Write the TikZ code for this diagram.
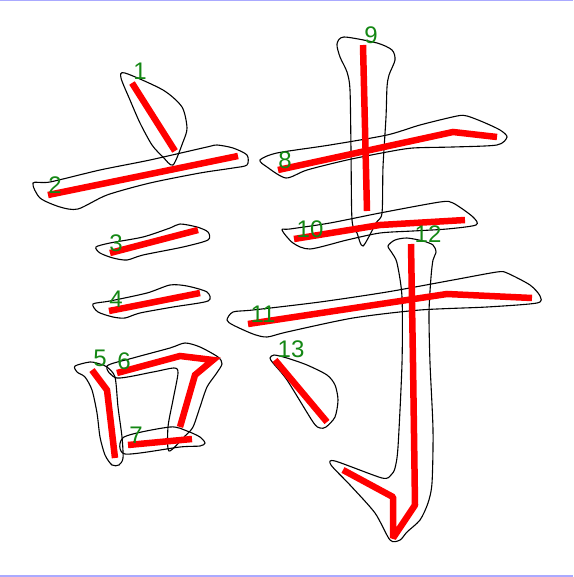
\documentclass[tikz,border=0pt]{standalone}
\usepackage{fontspec}
\setmainfont{Liberation Sans}
\definecolor{numgreen}{RGB}{20,135,20}
\definecolor{edgeblue}{RGB}{170,170,255}
\tikzset{
  outline/.style={draw=black,line width=1.1pt,smooth cycle,tension=0.45},
  redline/.style={draw=red,line width=6.5pt,line cap=butt,line join=miter},
  num/.style={text=numgreen,font=\fontsize{24}{24}\selectfont,inner sep=0pt}
}
\begin{document}
\begin{tikzpicture}[x=1pt,y=-1pt]
\useasboundingbox (0,0) rectangle (573,577);
\fill[white] (0,0) rectangle (573,577);
\draw[edgeblue,line width=1.5pt] (0,0.75) -- (573,0.75);
\draw[edgeblue,line width=1.5pt] (0,576) -- (573,576);
% outlines
% 1
\draw[outline] plot coordinates {(121,78) (125,73) (163,90) (182,107) (187,128) (183,142) (173,165) (163,157) (152,145) (140,123) (130,100)};
% 2
\draw[outline] plot coordinates {(33,183) (50,182) (100,170) (150,160) (207,147) (217,145) (233,148) (247,155) (247,165) (233,168) (200,173) (150,183) (107,195) (78,209) (60,207) (40,198)};
% 3
\draw[outline] plot coordinates {(96,247) (110,243) (143,237) (170,228) (180,224) (197,227) (208,232) (208,240) (183,247) (143,255) (127,260) (113,258) (100,253)};
% 4
\draw[outline] plot coordinates {(93,304) (110,301) (147,293) (170,285) (187,286) (207,292) (208,301) (173,307) (140,313) (125,318) (113,317) (98,312)};
% 5
\draw[outline] plot coordinates {(75,366) (90,362) (100,364) (107,367) (115,377) (118,407) (122,437) (123,458) (119,465) (112,465) (105,455) (100,437) (97,413) (92,390) (85,377) (77,372)};
% 6
\draw[outline] plot coordinates {(107,366) (133,358) (170,348) (185,343) (200,347) (218,357) (222,364) (216,374) (207,387) (200,407) (193,427) (185,436) (169,451) (168,427) (173,400) (178,373) (174,368) (153,372) (117,378)};
% 7
\draw[outline] plot coordinates {(124,437) (170,427) (187,431) (200,437) (205,443) (200,446) (180,447) (125,454)};
% 8
\draw[outline] plot coordinates {(260,160) (277,153) (330,145) (387,135) (420,125) (457,116) (467,116) (483,122) (500,130) (507,137) (497,145) (453,147) (413,148) (387,152) (347,160) (307,170) (286,178) (267,167)};
% 9
\draw[outline] plot coordinates {(337,44) (344,37) (377,43) (392,50) (395,60) (389,75) (387,87) (386,117) (383,167) (382,213) (376,223) (363,246) (357,233) (352,220) (351,150) (350,90) (347,72) (340,57)};
% 10
\draw[outline] plot coordinates {(282,230) (290,229) (330,223) (380,213) (440,202) (453,203) (473,217) (476,225) (447,229) (413,231) (380,233) (347,240) (310,249) (293,243)};
% 11
\draw[outline] plot coordinates {(227,320) (233,312) (253,310) (320,302) (387,292) (453,280) (497,272) (507,273) (530,285) (540,296) (537,303) (487,307) (420,310) (353,318) (287,332) (267,337) (253,334) (233,325)};
% 12
\draw[outline] plot coordinates {(388,246) (395,240) (407,238) (423,241) (433,245) (436,252) (433,260) (431,277) (429,313) (430,363) (433,430) (432,483) (428,503) (420,520) (407,532) (400,540) (390,540) (375,513) (350,485) (331,465) (335,461) (382,478) (391,475) (395,468) (398,447) (402,363) (402,297) (397,263) (392,253)};
% 13
\draw[outline] plot coordinates {(270,358) (274,355) (287,358) (307,365) (327,375) (335,385) (338,400) (335,417) (326,427) (320,428) (313,422) (287,380) (273,363)};
% red centre lines
\draw[redline] (132,83) -- (175,151);
\draw[redline] (48,195) -- (238,156);
\draw[redline] (110,253) -- (198,230);
\draw[redline] (109,311) -- (200,293);
\draw[redline] (92,370) -- (107,390) -- (115,458);
\draw[redline] (117,373) -- (180,356) -- (213,360) -- (195,375) -- (180,427);
\draw[redline] (128,445) -- (192,439);
\draw[redline] (278,170) -- (453,132) -- (497,137);
\draw[redline] (363,45) -- (367,211);
\draw[redline] (294,239) -- (380,225) -- (465,220);
\draw[redline] (248,324) -- (447,294) -- (532,298);
\draw[redline,line join=bevel] (411,244) -- (413,363) -- (415,505) -- (393,538) -- (393,497) -- (343,470);
\draw[redline] (275,360) -- (327,422);
% numbers
\node[num] (l1) at (140,71) {1};
\node[num] (l2) at (55,185) {2};
\node[num] (l3) at (116,243) {3};
\node[num] (l4) at (116,299) {4};
\node[num] (l5) at (100,358) {5};
\node[num] (l6) at (124,361) {6};
\node[num] (l7) at (136,435) {7};
\node[num] (l8) at (285,160) {8};
\node[num] (l9) at (371,35) {9};
\node[num] (l10) at (310,229) {10};
\node[num] (l11) at (263,314) {11};
\node[num] (l12) at (428,234) {12};
\node[num] (l13) at (291,349) {13};
\end{tikzpicture}
\end{document}
